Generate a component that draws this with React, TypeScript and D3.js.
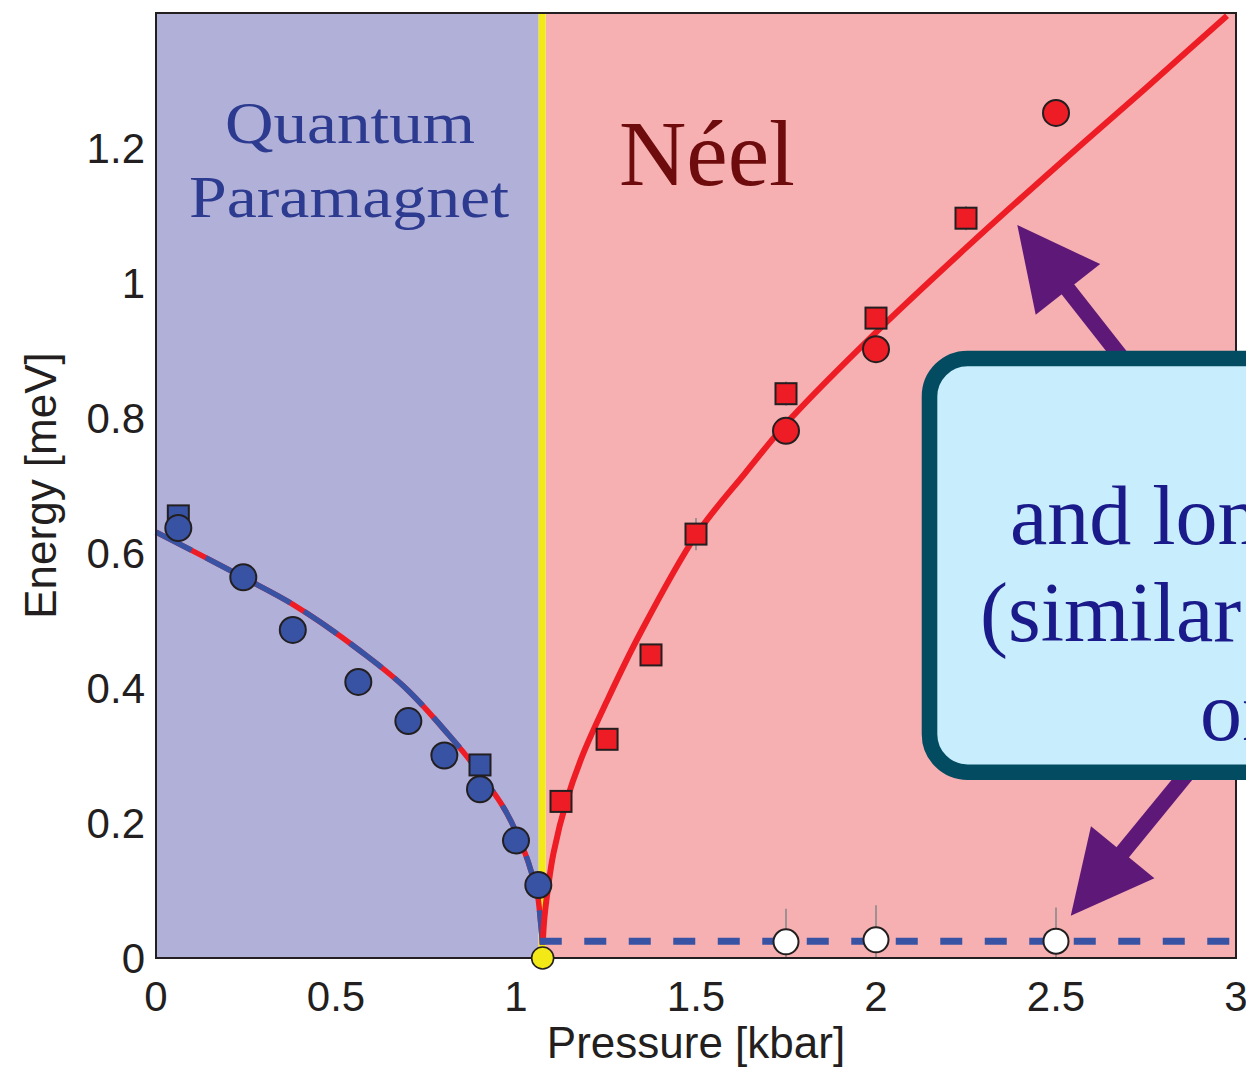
import React from "react";
import * as d3 from "d3";

// ---------- data ----------
const xTickValues = [0, 0.5, 1, 1.5, 2, 2.5, 3];
const xTickLabels = ["0", "0.5", "1", "1.5", "2", "2.5", "3"];
const yTickValues = [0, 0.2, 0.4, 0.6, 0.8, 1, 1.2];
const yTickLabels = ["0", "0.2", "0.4", "0.6", "0.8", "1", "1.2"];

const criticalPressure = 1.074;
const gapEnergy = 0.025;

// quantum paramagnet (blue) data
const blueCircles = [
  { p: 0.062, e: 0.637 },
  { p: 0.2425, e: 0.564 },
  { p: 0.38, e: 0.486 },
  { p: 0.562, e: 0.409 },
  { p: 0.701, e: 0.351 },
  { p: 0.801, e: 0.3 },
  { p: 0.9, e: 0.25 },
  { p: 1.0, e: 0.174 },
  { p: 1.062, e: 0.108 },
];
const blueSquares = [
  { p: 0.062, e: 0.655 },
  { p: 0.9, e: 0.286 },
];

// Néel (red) data
const redSquares = [
  { p: 1.125, e: 0.232, err: 0 },
  { p: 1.253, e: 0.324, err: 0 },
  { p: 1.375, e: 0.449, err: 0 },
  { p: 1.5, e: 0.628, err: 0.024 },
  { p: 1.75, e: 0.836, err: 0.018 },
  { p: 2.0, e: 0.948, err: 0 },
  { p: 2.25, e: 1.096, err: 0.018 },
];
const redCircles = [
  { p: 1.75, e: 0.781 },
  { p: 2.0, e: 0.902 },
  { p: 2.5, e: 1.252 },
];
const openCircles = [
  { p: 1.75, e: 0.024, err: 0.049 },
  { p: 2.0, e: 0.027, err: 0.051 },
  { p: 2.5, e: 0.025, err: 0.05 },
];

// fitted curves
const leftFit = [
  { p: 0.0, e: 0.631 },
  { p: 0.242, e: 0.564 },
  { p: 0.38, e: 0.524 },
  { p: 0.562, e: 0.457 },
  { p: 0.701, e: 0.396 },
  { p: 0.801, e: 0.338 },
  { p: 0.9, e: 0.273 },
  { p: 1.0, e: 0.187 },
  { p: 1.04, e: 0.132 },
  { p: 1.062, e: 0.086 },
  { p: 1.074, e: 0.02 },
];
const rightFit = [
  { p: 1.074, e: 0.02 },
  { p: 1.079, e: 0.06 },
  { p: 1.088, e: 0.1 },
  { p: 1.104, e: 0.155 },
  { p: 1.141, e: 0.234 },
  { p: 1.187, e: 0.303 },
  { p: 1.252, e: 0.38 },
  { p: 1.344, e: 0.48 },
  { p: 1.502, e: 0.628 },
  { p: 1.636, e: 0.718 },
  { p: 1.761, e: 0.798 },
  { p: 2.0, e: 0.927 },
  { p: 2.25, e: 1.052 },
  { p: 2.5, e: 1.172 },
  { p: 2.75, e: 1.289 },
  { p: 2.975, e: 1.396 },
];
const gapLine = [
  { p: 1.066, e: gapEnergy },
  { p: 3.0, e: gapEnergy },
];

// annotation geometry in data units
const arrowUp = { tip: { p: 2.3925, e: 1.086 }, tail: { p: 2.74, e: 0.85 } };
const arrowDown = { tip: { p: 2.541, e: 0.0627 }, tail: { p: 2.89, e: 0.29 } };
const calloutBox = { p0: 2.127, e0: 0.8997, e1: 0.2637 };
const calloutLines = [
  { text: "and longitudinal", p: 2.372, e: 0.613 },
  { text: "(similar to", p: 2.289, e: 0.4696 },
  { text: "on", p: 2.9, e: 0.3234 },
];

// ---------- component ----------
export default function App() {
  const W = 1246;
  const H = 1067;
  const x = d3.scaleLinear().domain([0, 3]).range([156, 1236]);
  const y = d3.scaleLinear().domain([0, 1.4]).range([958, 13]);

  const line = d3
    .line<{ p: number; e: number }>()
    .x((d) => x(d.p))
    .y((d) => y(d.e))
    .curve(d3.curveMonotoneX);
  const smooth = d3
    .line<{ p: number; e: number }>()
    .x((d) => x(d.p))
    .y((d) => y(d.e))
    .curve(d3.curveCatmullRom.alpha(0.5));
  const straight = d3
    .line<{ p: number; e: number }>()
    .x((d) => x(d.p))
    .y((d) => y(d.e));

  const blue = "#3953a4";
  const red = "#ee1c24";
  const edge = "#231f20";
  const sansFont = "'Liberation Sans', Arial, Helvetica, sans-serif";
  const serifFont = "'Liberation Serif', 'Times New Roman', serif";

  const arrow = (a: typeof arrowUp, key: string) => {
    const tx = x(a.tip.p), ty = y(a.tip.e);
    const sx = x(a.tail.p), sy = y(a.tail.e);
    const dx = sx - tx, dy = sy - ty;
    const len = Math.hypot(dx, dy);
    const ux = dx / len, uy = dy / len;
    const px = -uy, py = ux;
    const headLen = 82, half = 41;
    const bx = tx + ux * headLen, by = ty + uy * headLen;
    const pts = [
      [tx, ty],
      [bx + px * half, by + py * half],
      [bx - px * half, by - py * half],
    ];
    return (
      <g key={key}>
        <line x1={bx - ux * 4} y1={by - uy * 4} x2={sx} y2={sy} stroke="#5e1878" strokeWidth={16} />
        <polygon points={pts.map((q) => q.join(",")).join(" ")} fill="#5e1878" />
      </g>
    );
  };

  const sq = 21;
  const bx0 = x(calloutBox.p0);
  const by0 = y(calloutBox.e0);
  const by1 = y(calloutBox.e1);
  const bw = 15.6;

  return (
    <svg
      width={W}
      height={H}
      viewBox={`0 0 ${W} ${H}`}
      style={{ position: "absolute", left: 0, top: 0, background: "#fff" }}
    >
      {/* phase regions */}
      <rect x={x(0)} y={y(1.4)} width={x(criticalPressure) - 4 - x(0)} height={y(0) - y(1.4)} fill="#b1b0d8" />
      <rect x={x(criticalPressure) + 3} y={y(1.4)} width={x(3) - x(criticalPressure) - 3} height={y(0) - y(1.4)} fill="#f6b0b2" />
      <rect x={x(criticalPressure) - 4} y={y(1.4)} width={7} height={y(0) - y(1.4)} fill="#f2e916" />

      {/* region labels */}
      <text x={350} y={143} fontFamily={serifFont} fontSize={59} fill="#2c3a8f" textAnchor="middle" textLength={250} lengthAdjust="spacingAndGlyphs">
        Quantum
      </text>
      <text x={349} y={217} fontFamily={serifFont} fontSize={59} fill="#2c3a8f" textAnchor="middle" textLength={320} lengthAdjust="spacingAndGlyphs">
        Paramagnet
      </text>
      <text x={619} y={185} fontFamily={serifFont} fontSize={94} fill="#6d0b0d" textLength={176} lengthAdjust="spacingAndGlyphs">
        Néel
      </text>

      {/* fits */}
      <path d={line(leftFit) || ""} fill="none" stroke={red} strokeWidth={5.5} />
      <path d={line(leftFit) || ""} fill="none" stroke={blue} strokeWidth={5.5} strokeDasharray="40 16" />
      <path d={smooth(rightFit) || ""} fill="none" stroke={red} strokeWidth={6} />
      <path d={straight(gapLine) || ""} fill="none" stroke={blue} strokeWidth={7} strokeDasharray="22 22.5" />

      {/* error bars */}
      {openCircles.map((d, i) => (
        <line key={"oe" + i} x1={x(d.p)} x2={x(d.p)} y1={y(d.e + d.err)} y2={y(Math.max(0, d.e - d.err))} stroke="#8a8a8a" strokeWidth={1.6} />
      ))}
      {redSquares.filter((d) => d.err > 0).map((d, i) => (
        <line key={"re" + i} x1={x(d.p)} x2={x(d.p)} y1={y(d.e + d.err)} y2={y(d.e - d.err)} stroke="#8a8a8a" strokeWidth={1.6} />
      ))}

      {/* markers */}
      {blueSquares.map((d, i) => (
        <rect key={"bs" + i} x={x(d.p) - sq / 2} y={y(d.e) - sq / 2} width={sq} height={sq} fill={blue} stroke={edge} strokeWidth={2} />
      ))}
      {blueCircles.map((d, i) => (
        <circle key={"bc" + i} cx={x(d.p)} cy={y(d.e)} r={13} fill={blue} stroke={edge} strokeWidth={2} />
      ))}
      {redSquares.map((d, i) => (
        <rect key={"rs" + i} x={x(d.p) - sq / 2} y={y(d.e) - sq / 2} width={sq} height={sq} fill={red} stroke={edge} strokeWidth={2} />
      ))}
      {redCircles.map((d, i) => (
        <circle key={"rc" + i} cx={x(d.p)} cy={y(d.e)} r={13} fill={red} stroke={edge} strokeWidth={2} />
      ))}
      {openCircles.map((d, i) => (
        <circle key={"oc" + i} cx={x(d.p)} cy={y(d.e)} r={12.5} fill="#ffffff" stroke={edge} strokeWidth={2} />
      ))}

      {/* axes box */}
      <rect x={x(0)} y={y(1.4)} width={x(3) - x(0)} height={y(0) - y(1.4)} fill="none" stroke={edge} strokeWidth={2} />

      {/* critical point */}
      <circle cx={x(criticalPressure)} cy={y(0)} r={11} fill="#f3e916" stroke={edge} strokeWidth={1.6} />

      {/* tick labels */}
      {xTickValues.map((v, i) => (
        <text key={"xt" + i} x={x(v)} y={1011} fontFamily={sansFont} fontSize={42} fill={edge} textAnchor="middle">
          {xTickLabels[i]}
        </text>
      ))}
      {yTickValues.map((v, i) => (
        <text key={"yt" + i} x={145} y={y(v) + 15} fontFamily={sansFont} fontSize={42} fill={edge} textAnchor="end">
          {yTickLabels[i]}
        </text>
      ))}
      <text x={x(1.5)} y={1058} fontFamily={sansFont} fontSize={44} fill={edge} textAnchor="middle">
        Pressure [kbar]
      </text>
      <text transform={`translate(56, ${y(0.7)}) rotate(-90)`} fontFamily={sansFont} fontSize={44} fill={edge} textAnchor="middle">
        Energy [meV]
      </text>

      {/* annotation arrows */}
      {arrow(arrowUp, "au")}
      {arrow(arrowDown, "ad")}

      {/* callout box */}
      <rect
        x={bx0 + bw / 2}
        y={by0 + bw / 2}
        width={W - bx0 + 60}
        height={by1 - by0 - bw}
        rx={38}
        ry={38}
        fill="#c8eefd"
        stroke="#024b60"
        strokeWidth={bw}
      />
      {calloutLines.map((l, i) => (
        <text key={"cl" + i} x={x(l.p)} y={y(l.e)} fontFamily={serifFont} fontSize={84} fill="#1b1a8a">
          {l.text}
        </text>
      ))}
    </svg>
  );
}
